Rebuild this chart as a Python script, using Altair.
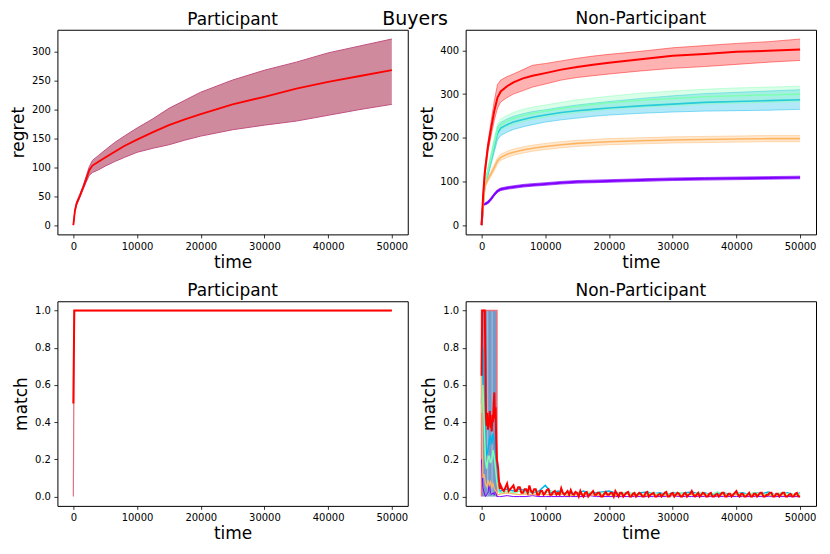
import altair as alt
import pandas as pd

FONT = "DejaVu Sans"

# ---------------- data ----------------
SUPTITLE = ["Buyers"]

# time grid of the regret curves
T = [0, 250, 500, 1000, 1500, 2000, 2500, 3000, 4000, 5000,
     6500, 8000, 10000, 12500, 15000, 17500, 20000, 25000, 30000, 35000,
     40000, 45000, 50000]

# Participant regret (mean and band)
TL_MEAN = [0, 25, 37, 50, 64, 79, 95, 103, 110, 117,
           127, 137, 148, 161, 173, 183, 192, 209, 222, 236,
           248, 258, 268]
TL_HI = [0, 27, 40, 53, 67, 84, 101, 112, 121, 130,
         143, 154, 168, 184, 202, 216, 230, 251, 268, 282,
         298, 310, 322]
TL_LO = [0, 23, 34, 47, 61, 74, 86, 91, 96, 102,
         110, 117, 126, 133, 139, 147, 154, 165, 173, 180,
         190, 200, 209]

# Non-Participant regret, per series
PURPLE_MEAN = [0, 49, 48, 52, 60, 70, 78, 82, 85, 87, 90, 92, 94, 97, 99, 100, 101, 103, 105, 106, 107, 108, 109]
PURPLE_HI = [0, 51, 50, 55, 63, 73, 81, 85, 88, 90, 93, 95, 97, 100, 102, 103, 104, 106, 108, 109, 110, 111, 112]
PURPLE_LO = [0, 47, 46, 49, 57, 67, 75, 79, 82, 84, 87, 89, 91, 94, 96, 97, 98, 100, 102, 103, 104, 105, 106]

BLUE_MEAN = [0, 45, 90, 120, 150, 180, 210, 222, 230, 236, 242, 247, 252, 258, 262, 265, 268, 273, 277, 281, 283, 285, 287]
BLUE_HI = [0, 48, 96, 128, 160, 192, 225, 235, 243, 249, 255, 260, 264, 270, 275, 279, 283, 290, 296, 301, 304, 307, 310]
BLUE_LO = [0, 42, 84, 112, 140, 168, 195, 205, 213, 219, 225, 230, 236, 241, 245, 249, 252, 256, 259, 261, 262, 263, 265]

GREEN_MEAN = [0, 45, 92, 125, 155, 188, 218, 230, 238, 244, 251, 256, 261, 267, 272, 276, 280, 286, 290, 294, 296, 298, 300]
GREEN_HI = [0, 48, 98, 133, 166, 200, 232, 243, 251, 258, 265, 270, 275, 281, 287, 291, 295, 302, 307, 311, 314, 316, 318]
GREEN_LO = [0, 42, 86, 117, 144, 176, 204, 217, 225, 230, 237, 242, 247, 253, 257, 261, 265, 270, 273, 277, 279, 281, 283]

ORANGE_MEAN = [0, 45, 88, 105, 118, 132, 147, 155, 162, 167, 172, 176, 180, 184, 187, 189, 191, 193, 195, 196, 197, 198, 198]
ORANGE_HI = [0, 48, 92, 110, 124, 139, 154, 162, 169, 174, 179, 183, 187, 191, 194, 196, 198, 200, 202, 203, 204, 205, 205]
ORANGE_LO = [0, 42, 84, 100, 112, 125, 140, 148, 155, 160, 165, 169, 173, 177, 180, 182, 184, 186, 188, 189, 190, 191, 191]

RED_MEAN = [0, 70, 120, 180, 222, 262, 292, 306, 318, 327, 336, 342, 348, 356, 362, 367, 372, 380, 388, 392, 397, 399, 402]
RED_HI = [0, 75, 128, 190, 238, 285, 322, 332, 340, 346, 356, 366, 370, 376, 382, 387, 391, 398, 406, 411, 416, 420, 426]
RED_LO = [0, 65, 110, 168, 205, 240, 268, 282, 292, 300, 308, 316, 323, 332, 338, 342, 346, 353, 359, 363, 368, 373, 377]

# Participant match
BL_T = [0, 150, 50000]
BL_MEAN = [0.5, 1.0, 1.0]
BL_LO = [0.0, 1.0, 1.0]
BL_HI = [1.0, 1.0, 1.0]

# Non-Participant match: band block
BR_BAND_T = [0, 2400]
BR_BAND_LO = [0.0, 0.0]
BR_BAND_HI = [1.0, 1.0]
BR_EDGE_T = [0, 0, 2400, 2400]
BR_EDGE_V = [0.0, 1.0, 1.0, 0.0]
BR_STRIPE_START = [850, 1550]
BR_STRIPE_END = [1050, 1750]

# red series: t = 0..2900 every 100, then 3000..50000 every 250
RED_EARLY = [0.65, 1.0, 1.0, 1.0, 1.0, 1.0, 0.75, 0.42, 0.38, 0.45,
             0.36, 0.42, 0.39, 0.46, 0.37, 0.41, 0.35, 0.44, 0.40, 0.50,
             0.56, 0.42, 0.48, 0.30, 0.20, 0.18, 0.15, 0.10, 0.06, 0.04]
RED_LATE = [0.06, 0.04, 0.03, 0.05, 0.07, 0.03, 0.04, 0.05, 0.06, 0.03,
            0.03, 0.05, 0.05, 0.02, 0.02, 0.04, 0.04, 0.02, 0.06, 0.03,
            0.02, 0.04, 0.04, 0.01, 0.01, 0.03, 0.03, 0.01, 0.02, 0.035,
            0.04, 0.01, 0.01, 0.025, 0.03, 0.01, 0.02, 0.01, 0.045, 0.02,
            0.01, 0.02, 0.03, 0.01, 0.035, 0.015, 0.01, 0.025, 0.02, 0.0,
            0.03, 0.01, 0.0, 0.02, 0.025, 0.0, 0.01, 0.02, 0.03, 0.01,
            0.01, 0.02, 0.02, 0.0, 0.0, 0.015, 0.025, 0.01, 0.01, 0.02,
            0.02, 0.0, 0.03, 0.015, 0.0, 0.02, 0.02, 0.0, 0.01, 0.02,
            0.025, 0.0, 0.0, 0.015, 0.02, 0.0, 0.01, 0.02, 0.015, 0.0,
            0.0, 0.02, 0.025, 0.0, 0.01, 0.015, 0.02, 0.0, 0.0, 0.01,
            0.015, 0.0, 0.01, 0.02, 0.025, 0.0, 0.0, 0.015, 0.02, 0.0,
            0.01, 0.02, 0.015, 0.0, 0.0, 0.015, 0.02, 0.0, 0.01, 0.015,
            0.03, 0.01, 0.0, 0.01, 0.02, 0.0, 0.01, 0.02, 0.015, 0.0,
            0.0, 0.015, 0.02, 0.0, 0.0, 0.01, 0.015, 0.0, 0.01, 0.02,
            0.02, 0.0, 0.0, 0.015, 0.015, 0.0, 0.01, 0.02, 0.03, 0.01,
            0.0, 0.015, 0.015, 0.0, 0.0, 0.01, 0.02, 0.0, 0.0, 0.015,
            0.015, 0.0, 0.01, 0.02, 0.02, 0.0, 0.0, 0.01, 0.01, 0.02,
            0.02, 0.0, 0.0, 0.015, 0.015, 0.0, 0.01, 0.02, 0.02, 0.0,
            0.0, 0.01, 0.015, 0.0, 0.0, 0.015, 0.02, 0.0, 0.0]

# other series: t = 0..2800 every 200, then 3000..50000 every 1000
BLUE_EARLY = [0.5, 0.8, 0.6, 0.3, 0.22, 0.25, 0.3, 0.33, 0.28, 0.34, 0.3, 0.25, 0.12, 0.06, 0.03]
BLUE_LATE = [0.03, 0.04, 0.03, 0.04, 0.03, 0.02, 0.03, 0.06, 0.02, 0.03,
             0.02, 0.015, 0.02, 0.03, 0.015, 0.02, 0.025, 0.03, 0.02, 0.015,
             0.02, 0.01, 0.02, 0.025, 0.015, 0.02, 0.01, 0.02, 0.015, 0.02,
             0.025, 0.015, 0.02, 0.01, 0.015, 0.02, 0.01, 0.015, 0.02, 0.01,
             0.02, 0.015, 0.025, 0.01, 0.015, 0.02, 0.01, 0.02]
GREEN_EARLY = [0.45, 0.6, 0.4, 0.2, 0.15, 0.2, 0.22, 0.18, 0.2, 0.25, 0.21, 0.15, 0.08, 0.04, 0.02]
GREEN_LATE = [0.02, 0.03, 0.02, 0.03, 0.02, 0.03, 0.02, 0.02, 0.03, 0.015,
              0.02, 0.01, 0.02, 0.015, 0.025, 0.01, 0.02, 0.015, 0.01, 0.02,
              0.015, 0.02, 0.01, 0.015, 0.02, 0.01, 0.015, 0.01, 0.02, 0.015,
              0.01, 0.02, 0.015, 0.01, 0.025, 0.015, 0.01, 0.02, 0.01, 0.015,
              0.02, 0.01, 0.015, 0.01, 0.02, 0.015, 0.01, 0.015]
ORANGE_EARLY = [0.65, 0.1, 0.12, 0.07, 0.05, 0.09, 0.06, 0.08, 0.05, 0.07, 0.04, 0.03, 0.02, 0.01, 0.01]
ORANGE_LATE = [0.015, 0.02, 0.015, 0.01, 0.015, 0.01, 0.015, 0.01, 0.01, 0.015,
               0.01, 0.005, 0.01, 0.015, 0.01, 0.005, 0.01, 0.01, 0.005, 0.01,
               0.015, 0.005, 0.01, 0.005, 0.01, 0.01, 0.005, 0.01, 0.005, 0.01,
               0.01, 0.005, 0.01, 0.005, 0.005, 0.01, 0.005, 0.01, 0.005, 0.01,
               0.005, 0.01, 0.005, 0.005, 0.01, 0.005, 0.01, 0.005]
PURPLE_EARLY = [0.2, 0.05, 0.02, 0.0, 0.01, 0.02, 0.07, 0.02, 0.01, 0.02, 0.01, 0.03, 0.0, 0.0, 0.0]
PURPLE_LATE = [0.0, 0.005, 0.0, 0.0, 0.0, 0.005, 0.0, 0.0, 0.0, 0.0,
               0.0, 0.0, 0.0, 0.0, 0.005, 0.0, 0.0, 0.0, 0.0, 0.0,
               0.0, 0.0, 0.0, 0.0, 0.0, 0.0, 0.0, 0.005, 0.0, 0.0,
               0.0, 0.0, 0.0, 0.0, 0.0, 0.0, 0.0, 0.0, 0.0, 0.0,
               0.0, 0.0, 0.0, 0.0, 0.0, 0.0, 0.0, 0.0]

XTICKS = [0, 10000, 20000, 30000, 40000, 50000]
COLORS = {"purple": "#8000ff", "blue": "#00b5eb", "green": "#80ffb4",
          "orange": "#ffb462", "red": "#ff0000"}

# ---------------- helpers ----------------
W, H = 351, 205


def X(field="t"):
    return alt.X(f"{field}:Q", scale=alt.Scale(domain=[-2500, 52500], nice=False, zero=False),
                 axis=alt.Axis(values=XTICKS, format="d", title="time",
                               titleY=33, titleBaseline="alphabetic"))


def Yf(field, dom, ticks, fmt, title, tx):
    return alt.Y(f"{field}:Q", scale=alt.Scale(domain=dom, nice=False, zero=False),
                 axis=alt.Axis(values=ticks, format=fmt, title=title, titleX=tx,
                               titleBaseline="alphabetic"))


REG_TOP = dict(ticks=[0, 50, 100, 150, 200, 250, 300], fmt="d", title="regret", tx=-33.5)
REG_TR = dict(ticks=[0, 100, 200, 300, 400], fmt="d", title="regret", tx=-33.5)
MATCH = dict(dom=[-0.05, 1.05], ticks=[0.0, 0.2, 0.4, 0.6, 0.8, 1.0], fmt=".1f", title="match", tx=-31)

# ---------------- top-left ----------------
df_tl = pd.DataFrame({"t": T, "mean": TL_MEAN, "lo": TL_LO, "hi": TL_HI})
ytl = dict(dom=[-16, 338], **REG_TOP)
sup = alt.Chart(pd.DataFrame({"label": SUPTITLE})).mark_text(
    font=FONT, fontSize=19, align="center", baseline="alphabetic", color="black"
).encode(x=alt.value(358.3), y=alt.value(-4.5), text="label:N")
tl = alt.layer(
    alt.Chart(df_tl).mark_area(color="#d08a9e").encode(x=X(), y=Yf("lo", **ytl), y2=alt.Y2("hi")),
    alt.Chart(df_tl).mark_line(color="#c0507f", strokeWidth=1).encode(x=X(), y=Yf("hi", **ytl)),
    alt.Chart(df_tl).mark_line(color="#c0507f", strokeWidth=1).encode(x=X(), y=Yf("lo", **ytl)),
    alt.Chart(df_tl).mark_line(color="#ff0000", strokeWidth=1.8).encode(x=X(), y=Yf("mean", **ytl)),
    sup,
).properties(width=W, height=H, title=alt.TitleParams("Participant", dy=20))

# ---------------- top-right ----------------
ytr = dict(dom=[-21.3, 447.3], **REG_TR)
series_tr = [
    ("purple", PURPLE_MEAN, PURPLE_LO, PURPLE_HI),
    ("blue", BLUE_MEAN, BLUE_LO, BLUE_HI),
    ("green", GREEN_MEAN, GREEN_LO, GREEN_HI),
    ("orange", ORANGE_MEAN, ORANGE_LO, ORANGE_HI),
    ("red", RED_MEAN, RED_LO, RED_HI),
]
tr_layers = []
for name, m, lo, hi in series_tr:
    c = COLORS[name]
    d = pd.DataFrame({"t": T, "mean": m, "lo": lo, "hi": hi})
    eop = 0.65 if name == "purple" else 0.45
    tr_layers += [
        alt.Chart(d).mark_area(color=c, opacity=0.35 if name == "purple" else 0.3).encode(
            x=X(), y=Yf("lo", **ytr), y2=alt.Y2("hi")),
        alt.Chart(d).mark_line(color=c, opacity=eop, strokeWidth=1).encode(x=X(), y=Yf("hi", **ytr)),
        alt.Chart(d).mark_line(color=c, opacity=eop, strokeWidth=1).encode(x=X(), y=Yf("lo", **ytr)),
        alt.Chart(d).mark_line(color=c, strokeWidth=2 if name in ("red", "purple") else 1.6).encode(
            x=X(), y=Yf("mean", **ytr)),
    ]
tr = alt.layer(*tr_layers).properties(width=W, height=H, title="Non-Participant")

# ---------------- bottom-left ----------------
df_bl = pd.DataFrame({"t": BL_T, "mean": BL_MEAN, "lo": BL_LO, "hi": BL_HI})
bl = alt.layer(
    alt.Chart(df_bl).mark_area(color="#f0a8b0").encode(x=X(), y=Yf("lo", **MATCH), y2=alt.Y2("hi")),
    alt.Chart(df_bl).mark_line(color="#e0707f", strokeWidth=1.2).encode(x=X(), y=Yf("lo", **MATCH)),
    alt.Chart(df_bl).mark_line(color="#ff0000", strokeWidth=2).encode(x=X(), y=Yf("mean", **MATCH)),
).properties(width=W, height=H, title="Participant")

# ---------------- bottom-right ----------------
df_band = pd.DataFrame({"t": BR_BAND_T, "lo": BR_BAND_LO, "hi": BR_BAND_HI})
df_edge = pd.DataFrame({"t": BR_EDGE_T, "v": BR_EDGE_V, "i": list(range(len(BR_EDGE_T)))})
df_stripe = pd.DataFrame({"t": BR_STRIPE_START, "t2": BR_STRIPE_END,
                          "lo": [0.0] * len(BR_STRIPE_START), "hi": [1.0] * len(BR_STRIPE_START)})
early_other = list(range(0, 2801, 200))
late_other = list(range(3000, 50001, 1000))
red_t = list(range(0, 2901, 100)) + [3000 + 250 * i for i in range(len(RED_LATE))]
series_br = [
    ("purple", early_other + late_other, PURPLE_EARLY + PURPLE_LATE, 1.0),
    ("blue", early_other + late_other, BLUE_EARLY + BLUE_LATE, 1.5),
    ("green", early_other + late_other, GREEN_EARLY + GREEN_LATE, 1.5),
    ("orange", early_other + late_other, ORANGE_EARLY + ORANGE_LATE, 1.2),
    ("red", red_t, RED_EARLY + RED_LATE, 2.0),
]
br_layers = [
    alt.Chart(df_band).mark_area(color="#7399c8").encode(x=X(), y=Yf("lo", **MATCH), y2=alt.Y2("hi")),
    alt.Chart(df_stripe).mark_rect(color="#a3b8d6").encode(
        x=X(), x2=alt.X2("t2"), y=Yf("lo", **MATCH), y2=alt.Y2("hi")),
    alt.Chart(df_edge).mark_line(color="#e8707c", strokeWidth=1.6).encode(
        x=X(), y=Yf("v", **MATCH), order="i:Q"),
]
for name, tt, vv, sw in series_br:
    d = pd.DataFrame({"t": tt, "v": vv})
    br_layers.append(alt.Chart(d).mark_line(color=COLORS[name], strokeWidth=sw).encode(
        x=X(), y=Yf("v", **MATCH)))
br = alt.layer(*br_layers).properties(width=W, height=H, title="Non-Participant")

# ---------------- assemble ----------------
chart = alt.concat(
    tl, tr, bl, br, columns=2,
    spacing=alt.RowColnumber(row=67, column=58),
    bounds="flush",
    padding={"left": 1.5, "top": 1.3, "right": 5, "bottom": 5},
).configure_view(
    stroke="black", strokeWidth=1
).configure_axis(
    domain=False, grid=False, ticks=True, tickColor="black", tickSize=3.5, tickWidth=0.8,
    labelFont=FONT, labelFontSize=10, labelColor="black", labelPadding=3.5,
    titleFont=FONT, titleFontSize=17, titleFontWeight="normal", titleColor="black",
).configure_title(
    font=FONT, fontSize=17, fontWeight="normal", color="black",
    offset=1.5, anchor="middle",
)

chart.save("out.html", embed_options={"renderer": "svg", "actions": False})
